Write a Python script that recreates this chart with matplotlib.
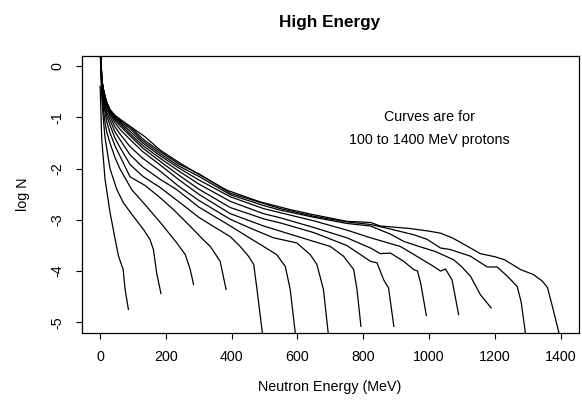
import numpy as np
import matplotlib
matplotlib.use("Agg")
import matplotlib.pyplot as plt

plt.rcParams['font.family'] = ['Liberation Sans', 'DejaVu Sans']

# neutron energy (MeV) and log N for each proton energy
e_100 = [0, 5, 15, 30, 46, 56, 70, 76, 86]
n_100 = [-0.39, -1.43, -2.21, -2.85, -3.39, -3.71, -3.97, -4.36, -4.75]

e_200 = [0, 5, 10, 15, 30, 51, 71, 101, 132, 152, 162, 172, 185]
n_200 = [0.3, -0.6, -1.05, -1.4, -2.0, -2.41, -2.67, -2.93, -3.19, -3.39, -3.58, -4.04, -4.44]

e_300 = [0, 5, 10, 15, 20, 30, 45, 60, 96, 132, 183, 233, 259, 274, 284]
n_300 = [0.4, -0.45, -0.85, -1.1, -1.28, -1.5, -1.78, -2.0, -2.41, -2.67, -3.05, -3.45, -3.68, -3.97, -4.26]

e_400 = [0, 5, 10, 15, 20, 30, 45, 60, 91, 137, 183, 223, 270, 314, 335, 365, 383]
n_400 = [0.5, -0.4, -0.7, -0.9, -1.08, -1.3, -1.55, -1.75, -2.16, -2.33, -2.57, -2.8, -3.1, -3.39, -3.52, -3.81, -4.36]

e_500 = [0, 5, 10, 15, 20, 30, 45, 60, 91, 130, 183, 250, 300, 350, 396, 426, 451, 467, 477, 495]
n_500 = [0.6, -0.4, -0.65, -0.85, -0.97, -1.15, -1.4, -1.58, -1.92, -2.15, -2.37, -2.7, -2.95, -3.15, -3.33, -3.52, -3.71, -3.87, -4.36, -5.3]

e_600 = [0, 5, 10, 15, 20, 30, 45, 60, 91, 130, 183, 233, 300, 396, 446, 497, 537, 563, 578, 595]
n_600 = [0.6, -0.35, -0.6, -0.78, -0.9, -1.05, -1.28, -1.43, -1.73, -1.97, -2.21, -2.41, -2.75, -3.12, -3.32, -3.52, -3.68, -3.91, -4.36, -5.3]

e_700 = [0, 5, 10, 15, 20, 30, 45, 60, 91, 130, 183, 240, 300, 396, 456, 527, 598, 639, 659, 679, 695]
n_700 = [0.6, -0.32, -0.55, -0.7, -0.84, -0.98, -1.18, -1.32, -1.57, -1.8, -2.05, -2.35, -2.62, -2.99, -3.16, -3.35, -3.45, -3.68, -3.87, -4.36, -5.3]

e_800 = [0, 5, 10, 15, 20, 30, 45, 60, 91, 130, 183, 240, 300, 396, 497, 598, 700, 740, 771, 781, 793]
n_800 = [0.6, -0.3, -0.5, -0.65, -0.78, -0.93, -1.1, -1.23, -1.43, -1.67, -1.93, -2.22, -2.5, -2.88, -3.12, -3.32, -3.52, -3.71, -3.97, -4.36, -5.08]

e_900 = [0, 5, 10, 15, 20, 30, 45, 60, 91, 130, 183, 240, 300, 396, 497, 548, 650, 750, 822, 842, 862, 877, 893]
n_900 = [0.6, -0.28, -0.48, -0.62, -0.75, -0.9, -1.05, -1.16, -1.36, -1.6, -1.86, -2.13, -2.4, -2.76, -2.98, -3.06, -3.25, -3.5, -3.81, -3.84, -4.17, -4.33, -5.08]

e_1000 = [0, 5, 10, 15, 20, 30, 45, 60, 91, 130, 183, 240, 300, 396, 497, 548, 650, 750, 822, 852, 883, 923, 953, 965, 975, 992]
n_1000 = [0.6, -0.27, -0.47, -0.6, -0.73, -0.88, -1.02, -1.12, -1.32, -1.55, -1.8, -2.05, -2.3, -2.64, -2.88, -2.96, -3.15, -3.35, -3.55, -3.66, -3.65, -3.81, -3.97, -4.0, -4.25, -4.87]

e_1100 = [0, 5, 10, 15, 20, 30, 45, 60, 91, 130, 183, 240, 300, 396, 497, 548, 650, 750, 822, 913, 960, 1009, 1035, 1050, 1070, 1090]
n_1100 = [0.6, -0.27, -0.46, -0.6, -0.72, -0.87, -1.0, -1.09, -1.27, -1.5, -1.75, -1.99, -2.22, -2.55, -2.78, -2.86, -3.02, -3.2, -3.35, -3.52, -3.7, -3.89, -4.0, -3.96, -4.17, -4.85]

e_1200 = [0, 5, 10, 15, 20, 30, 45, 60, 91, 130, 183, 240, 300, 396, 497, 548, 650, 750, 822, 883, 923, 970, 1020, 1075, 1100, 1126, 1156, 1189]
n_1200 = [0.6, -0.26, -0.46, -0.59, -0.71, -0.86, -0.98, -1.07, -1.22, -1.46, -1.71, -1.95, -2.15, -2.51, -2.72, -2.81, -2.95, -3.07, -3.12, -3.28, -3.42, -3.52, -3.62, -3.78, -3.92, -4.1, -4.46, -4.72]

e_1300 = [0, 5, 10, 15, 20, 30, 45, 60, 91, 130, 183, 240, 300, 396, 497, 548, 650, 750, 822, 883, 953, 994, 1035, 1065, 1126, 1177, 1207, 1238, 1268, 1280, 1295]
n_1300 = [0.6, -0.26, -0.45, -0.59, -0.7, -0.85, -0.97, -1.05, -1.18, -1.42, -1.67, -1.91, -2.1, -2.48, -2.68, -2.78, -2.93, -3.04, -3.09, -3.18, -3.29, -3.38, -3.55, -3.58, -3.71, -3.92, -3.92, -4.1, -4.3, -4.6, -5.3]

e_1400 = [0, 5, 10, 15, 20, 30, 46, 60, 86, 137, 183, 240, 289, 385, 487, 578, 649, 751, 822, 852, 943, 1000, 1035, 1070, 1096, 1156, 1200, 1230, 1278, 1318, 1345, 1360, 1375, 1394, 1400]
n_1400 = [0.6, -0.26, -0.45, -0.59, -0.7, -0.85, -0.96, -1.03, -1.15, -1.38, -1.64, -1.88, -2.07, -2.42, -2.65, -2.8, -2.9, -3.03, -3.05, -3.12, -3.17, -3.22, -3.26, -3.35, -3.44, -3.66, -3.72, -3.78, -3.97, -4.07, -4.2, -4.32, -4.69, -5.18, -5.4]

curves = [(e_100, n_100), (e_200, n_200), (e_300, n_300), (e_400, n_400),
          (e_500, n_500), (e_600, n_600), (e_700, n_700), (e_800, n_800),
          (e_900, n_900), (e_1000, n_1000), (e_1100, n_1100), (e_1200, n_1200),
          (e_1300, n_1300), (e_1400, n_1400)]

x_ticks = [0, 200, 400, 600, 800, 1000, 1200, 1400]
y_ticks = [0, -1, -2, -3, -4, -5]

W, H = 582, 401
fig = plt.figure(figsize=(W / 100, H / 100), dpi=100)
ax = fig.add_axes([81.7 / W, 1 - 332.5 / H, (579 - 81.7) / W, (332.5 - 56) / H])

for e, n in curves:
    ax.plot(e, n, color='black', lw=0.9)

ax.set_xlim(-56, 1456)
ax.set_ylim(-5.2, 0.2)
ax.set_xticks(x_ticks)
ax.set_xticklabels([str(t) for t in x_ticks], fontsize=10.3)
ax.set_yticks(y_ticks)
ax.set_yticklabels([str(t) for t in y_ticks], fontsize=10.3, rotation=90, va='center')
ax.tick_params(direction='out', length=4.1, width=0.8, pad=8.5)
for s in ax.spines.values():
    s.set_linewidth(0.9)

ax.text(1000, -1.0, 'Curves are for', ha='center', va='center', fontsize=10.3)
ax.text(1000, -1.45, '100 to 1400 MeV protons', ha='center', va='center', fontsize=10.3)

fig.text(330 / W, 1 - 22 / H, 'High Energy', ha='center', va='center',
         fontsize=12.3, fontweight='bold')
fig.text(330 / W, 1 - 387 / H, 'Neutron Energy (MeV)', ha='center', va='center', fontsize=10.3)
fig.text(23 / W, 1 - 194 / H, 'log N', ha='center', va='center', fontsize=10.3, rotation=90)

fig.savefig('out.png', dpi=100)
